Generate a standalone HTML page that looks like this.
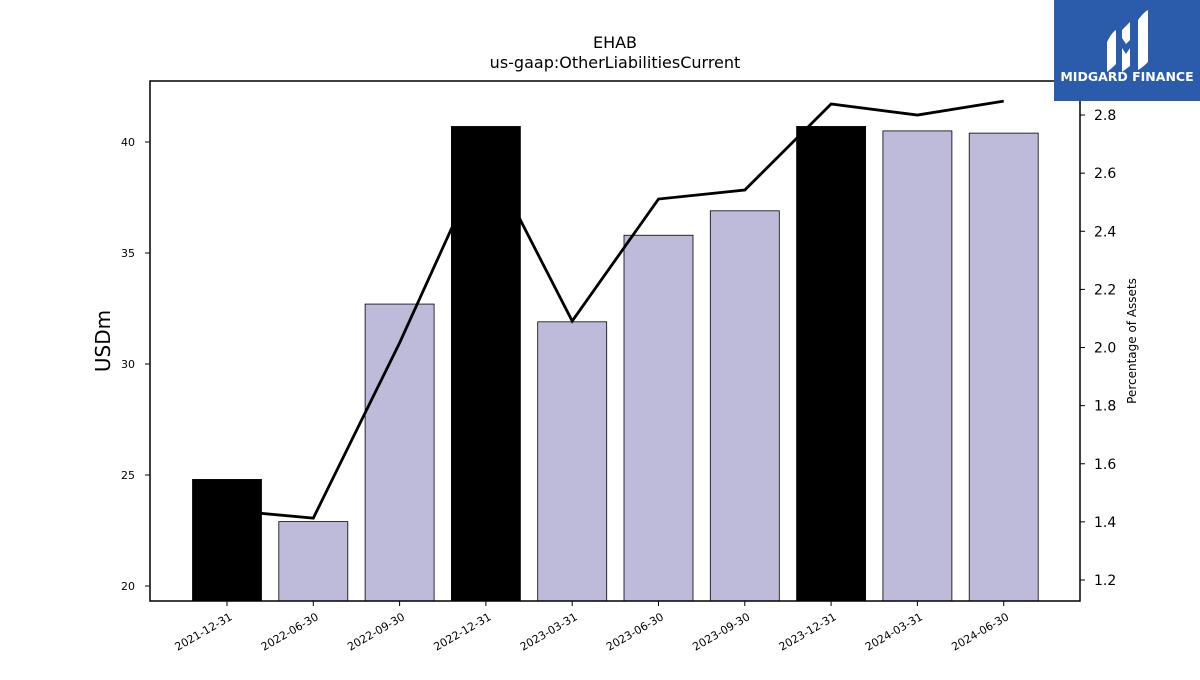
<!DOCTYPE html>
<html><head><meta charset="utf-8"><style>
body{margin:0;background:#fff;width:1200px;height:675px;overflow:hidden;font-family:"Liberation Sans","DejaVu Sans",sans-serif}
</style></head><body>
<svg id="chart" width="1200" height="675" xmlns="http://www.w3.org/2000/svg" font-family="DejaVu Sans, Liberation Sans, sans-serif">
<text x="615" y="48" text-anchor="middle" font-size="16">EHAB</text>
<text x="615" y="68" text-anchor="middle" font-size="16">us-gaap:OtherLiabilitiesCurrent</text>
<g id="bars"></g>
<g id="line"></g>
<rect x="150" y="81" width="930" height="520" fill="none" stroke="#000" stroke-width="1.5"/>
<g id="axes" font-size="11"></g>
<text transform="translate(110,341) rotate(-90)" text-anchor="middle" font-size="20">USDm</text>
<text transform="translate(1136,341) rotate(-90)" text-anchor="middle" font-size="12">Percentage of Assets</text>
<g>
<rect x="1054" y="0" width="146" height="101" fill="#2b5bab"/>
<path d="M1107 42 Q1112 32 1116 30 L1116 64 Q1110 70 1107 72 Z" fill="#fff"/>
<path d="M1122 30 L1130 22 L1130 40 L1126 44 L1122 38 Z M1122 48 L1126 54 L1130 48 L1130 66 L1122 72 Z" fill="#fff"/>
<path d="M1138 20 Q1144 12 1148 10 L1148 62 Q1142 68 1138 70 Z" fill="#fff"/>
<text x="1127" y="81" text-anchor="middle" fill="#fff" font-size="12.5" font-weight="bold">MIDGARD FINANCE</text>
</g>
</svg>
<script>
const categories=["2021-12-31","2022-06-30","2022-09-30","2022-12-31","2023-03-31","2023-06-30","2023-09-30","2023-12-31","2024-03-31","2024-06-30"];
const barValues=[24.8,22.9,32.7,40.7,31.9,35.8,36.9,40.7,40.5,40.4];
const highlight=[1,0,0,1,0,0,0,1,0,0];
const pctValues=[1.44,1.413,2.016,2.67,2.091,2.511,2.542,2.838,2.80,2.848];
const leftTicks=[20,25,30,35,40];
const rightTicks=[1.2,1.4,1.6,1.8,2.0,2.2,2.4,2.6,2.8];
const NS="http://www.w3.org/2000/svg";
const X0=150,X1=1080,Y0=81,Y1=601;
const yL=v=>586-(v-20)*22.2;
const yR=v=>580-(v-1.2)*290.6;
const step=(X1-X0)/(categories.length+0.77);
const xC=i=>227+i*86.3;
function mk(t,a,p){const e=document.createElementNS(NS,t);for(const k in a)e.setAttribute(k,a[k]);p.appendChild(e);return e;}
const bars=document.getElementById('bars'),line=document.getElementById('line'),axes=document.getElementById('axes');
const bw=69;
barValues.forEach((v,i)=>{
 const r=mk('rect',{x:xC(i)-bw/2,y:yL(v),width:bw,height:Y1-yL(v),fill:highlight[i]?'#000':'#bebad9',stroke:'#000','stroke-width':0.8},bars);
 
 
});
const pl=mk('polyline',{points:pctValues.map((v,i)=>xC(i)+','+yR(v)).join(' '),fill:'none',stroke:'#000','stroke-width':2.8,'stroke-linejoin':'miter'},line);


categories.forEach((c,i)=>{
 const x=xC(i);
 mk('line',{x1:x,x2:x,y1:Y1,y2:Y1+5,stroke:'#000'},axes);
 const t=mk('text',{x:x+6,y:Y1+18,'text-anchor':'end',transform:`rotate(-30 ${x+6} ${Y1+18})`,'font-size':11},axes);
 t.textContent=c;
 
 
});
leftTicks.forEach(v=>{
 const y=yL(v);
 mk('line',{x1:X0-5,x2:X0,y1:y,y2:y,stroke:'#000'},axes);
 const t=mk('text',{x:X0-15,y:y+4,'text-anchor':'end','font-size':11},axes);
 t.textContent=v;
 
 
});
rightTicks.forEach(v=>{
 const y=yR(v);
 mk('line',{x1:X1,x2:X1+5,y1:y,y2:y,stroke:'#000'},axes);
 const t=mk('text',{x:X1+14,y:y+5,'font-size':14},axes);
 t.textContent=v.toFixed(1);
 
 
});
</script>
</body></html>
